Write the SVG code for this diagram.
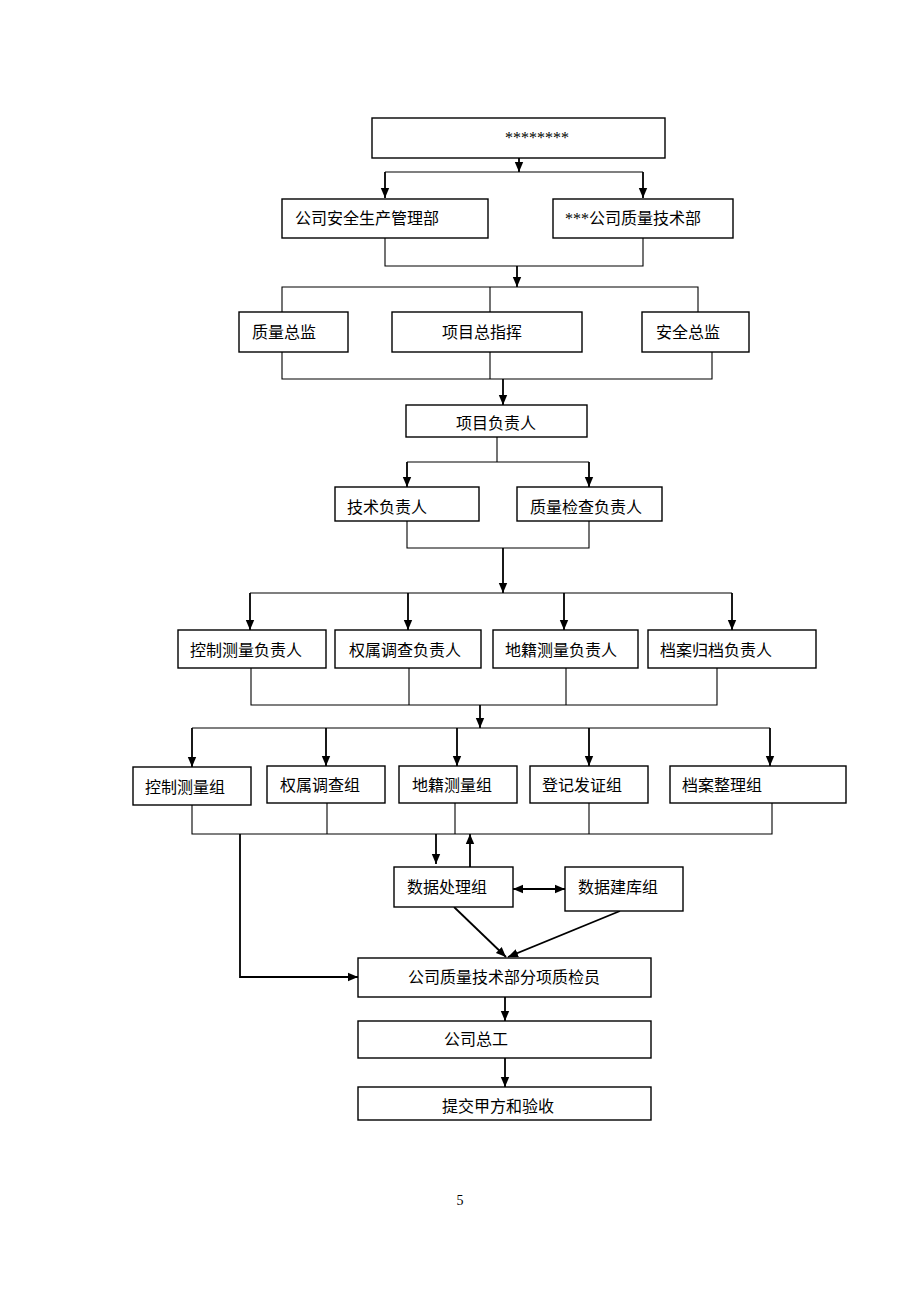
<svg xmlns="http://www.w3.org/2000/svg" width="920" height="1302" viewBox="0 0 920 1302">
<style>
.box{fill:#fff;stroke:#000;stroke-width:1.4}
.t{font-family:"Liberation Serif","Noto Sans CJK SC",serif;font-size:16px;fill:#000}
.c{fill:none;stroke:#000;stroke-width:1.1}
.a{fill:none;stroke:#000;stroke-width:1.8;marker-end:url(#ah)}
</style>
<defs>
<marker id="ah" markerUnits="userSpaceOnUse" markerWidth="10" markerHeight="10" refX="10" refY="5" orient="auto">
<path d="M0,0.8 L10,5 L0,9.2 z" fill="#000"/>
</marker>
<marker id="as" markerUnits="userSpaceOnUse" markerWidth="10" markerHeight="10" refX="0" refY="5" orient="auto">
<path d="M10,0.8 L0,5 L10,9.2 z" fill="#000"/>
</marker>
</defs>
<rect width="920" height="1302" fill="#fff"/>
<g id="connectors">
<path class="a" d="M519 158 V172"/>
<path class="c" d="M385 172 H643"/>
<path class="a" d="M385 172 V198"/>
<path class="a" d="M643 172 V198"/>
<path class="c" d="M385 238 V266 H643 V238"/>
<path class="a" d="M517 266 V287"/>
<path class="c" d="M282 312 V287 H698 V312 M490 287 V312"/>
<path class="c" d="M282 352 V379 H712 V352 M490 352 V379"/>
<path class="a" d="M503 379 V405"/>
<path class="c" d="M497 437 V462 M407 462 H589"/>
<path class="a" d="M407 462 V487"/>
<path class="a" d="M589 462 V487"/>
<path class="c" d="M407 521 V548 H589 V521"/>
<path class="a" d="M503 548 V593"/>
<path class="c" d="M250 593 H732"/>
<path class="a" d="M250 593 V630"/>
<path class="a" d="M408 593 V630"/>
<path class="a" d="M564 593 V630"/>
<path class="a" d="M732 593 V630"/>
<path class="c" d="M251 668 V705 H717 V668 M409 668 V705 M566 668 V705"/>
<path class="a" d="M480 705 V728"/>
<path class="c" d="M192 728 H770"/>
<path class="a" d="M192 728 V767"/>
<path class="a" d="M326 728 V766"/>
<path class="a" d="M457 728 V766"/>
<path class="a" d="M589 728 V766"/>
<path class="a" d="M770 728 V766"/>
<path class="c" d="M192 805 V834 H772 V803 M327 803 V834 M455 803 V834 M589 803 V834"/>
<path class="a" d="M240 834 V977 H358"/>
<path class="a" d="M436 834 V864"/>
<path class="a" d="M470 867 V834"/>
<path class="a" d="M513 889 H565" marker-start="url(#as)"/>
<path class="a" d="M454 907 L506 957"/>
<path class="a" d="M620 911 L508 957"/>
<path class="a" d="M505 997 V1021"/>
<path class="a" d="M505 1058 V1087"/>
</g>
<g id="n_top"><rect class="box" x="372" y="118" width="293" height="40"/><text class="t" x="505" y="143">********</text></g>
<g id="n_safety_dept"><rect class="box" x="282" y="199" width="206" height="39"/><text class="t" x="295" y="224">公司安全生产管理部</text></g>
<g id="n_quality_dept"><rect class="box" x="553" y="199" width="180" height="39"/><text class="t" x="565" y="224">***公司质量技术部</text></g>
<g id="n_quality_chief"><rect class="box" x="239" y="312" width="109" height="40"/><text class="t" x="252" y="338">质量总监</text></g>
<g id="n_project_cmd"><rect class="box" x="392" y="312" width="190" height="40"/><text class="t" x="442" y="338">项目总指挥</text></g>
<g id="n_safety_chief"><rect class="box" x="642" y="312" width="107" height="40"/><text class="t" x="656" y="338">安全总监</text></g>
<g id="n_project_lead"><rect class="box" x="406" y="405" width="181" height="32"/><text class="t" x="456" y="429">项目负责人</text></g>
<g id="n_tech_lead"><rect class="box" x="335" y="487" width="144" height="34"/><text class="t" x="347" y="513">技术负责人</text></g>
<g id="n_qc_lead"><rect class="box" x="517" y="487" width="145" height="34"/><text class="t" x="530" y="513">质量检查负责人</text></g>
<g id="n_ctrl_lead"><rect class="box" x="178" y="630" width="148" height="38"/><text class="t" x="190" y="656">控制测量负责人</text></g>
<g id="n_right_lead"><rect class="box" x="335" y="630" width="146" height="38"/><text class="t" x="349" y="656">权属调查负责人</text></g>
<g id="n_cad_lead"><rect class="box" x="493" y="630" width="145" height="38"/><text class="t" x="505" y="656">地籍测量负责人</text></g>
<g id="n_arch_lead"><rect class="box" x="648" y="630" width="168" height="38"/><text class="t" x="660" y="656">档案归档负责人</text></g>
<g id="n_ctrl_grp"><rect class="box" x="133" y="767" width="118" height="38"/><text class="t" x="145" y="793">控制测量组</text></g>
<g id="n_right_grp"><rect class="box" x="267" y="766" width="118" height="37"/><text class="t" x="280" y="791">权属调查组</text></g>
<g id="n_cad_grp"><rect class="box" x="399" y="766" width="118" height="37"/><text class="t" x="412" y="791">地籍测量组</text></g>
<g id="n_reg_grp"><rect class="box" x="530" y="766" width="118" height="37"/><text class="t" x="542" y="791">登记发证组</text></g>
<g id="n_arch_grp"><rect class="box" x="670" y="766" width="176" height="37"/><text class="t" x="682" y="791">档案整理组</text></g>
<g id="n_data_proc"><rect class="box" x="394" y="867" width="119" height="40"/><text class="t" x="407" y="893">数据处理组</text></g>
<g id="n_data_db"><rect class="box" x="565" y="867" width="118" height="44"/><text class="t" x="578" y="893">数据建库组</text></g>
<g id="n_inspector"><rect class="box" x="358" y="958" width="293" height="39"/><text class="t" x="408" y="983">公司质量技术部分项质检员</text></g>
<g id="n_chief_eng"><rect class="box" x="358" y="1021" width="293" height="37"/><text class="t" x="444" y="1045">公司总工</text></g>
<g id="n_submit"><rect class="box" x="358" y="1087" width="293" height="33"/><text class="t" x="442" y="1112">提交甲方和验收</text></g>
<text x="460" y="1205" text-anchor="middle" style="font-family:'Liberation Serif',serif;font-size:14px">5</text>
</svg>
